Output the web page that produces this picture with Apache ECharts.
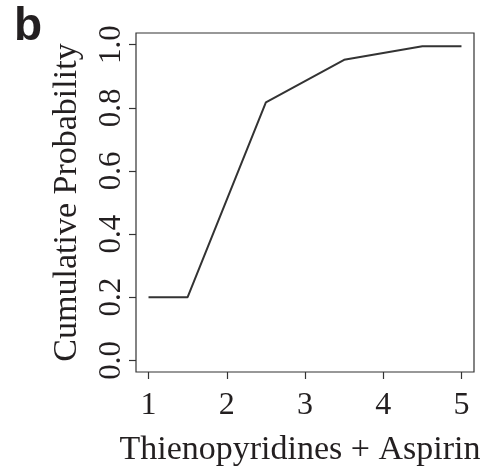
<!DOCTYPE html>
<html><head><meta charset="utf-8">
<script src="https://cdn.jsdelivr.net/npm/echarts@6/dist/echarts.min.js"></script>
<style>html,body{margin:0;padding:0;background:#fff}#c{width:485px;height:472px}</style>
</head><body><div id="c"></div>
<script>
var xValues = [1, 1.5, 2.5, 3.5, 4.5, 5];
var yValues = [0.2, 0.2, 0.817, 0.952, 0.995, 0.995];
var xTicks = [1, 2, 3, 4, 5];
var yTicks = [0, 0.2, 0.4, 0.6, 0.8, 1.0];
var yTickLabels = ['0.0', '0.2', '0.4', '0.6', '0.8', '1.0'];
var xTitle = 'Thienopyridines + Aspirin';
var yTitle = 'Cumulative Probability';
var panelLabel = 'b';

var serif = '"Liberation Serif", "DejaVu Serif", serif';
var chart = echarts.init(document.getElementById('c'), null, {renderer: 'canvas'});
chart.setOption({
  animation: false,
  title: {text: panelLabel, left: 9, top: -1, textStyle: {fontFamily: '"Liberation Sans", Arial, sans-serif', fontWeight: 'bold', fontSize: 46, color: '#231f20'}},
  grid: {left: 136, right: 11, top: 33, bottom: 100, show: true, borderColor: '#333', borderWidth: 1.2, backgroundColor: 'transparent', containLabel: false, outerBoundsMode: 'none'},
  xAxis: {
    type: 'value', min: 0.84, max: 5.16,
    axisLine: {show: false, onZero: false},
    splitLine: {show: false},
    axisTick: {show: true, inside: false, length: 7, lineStyle: {color: '#333', width: 1.2}, customValues: xTicks},
    axisLabel: {customValues: xTicks, fontFamily: serif, fontSize: 32, color: '#231f20', margin: 18, formatter: function(v){return String(v);}},
    name: xTitle, nameLocation: 'middle', nameGap: 61,
    nameTextStyle: {fontFamily: serif, fontSize: 34, color: '#231f20', padding: [0, 10, 0, 0]}
  },
  yAxis: {
    type: 'value', min: -0.037, max: 1.037,
    axisLine: {show: false, onZero: false},
    splitLine: {show: false},
    axisTick: {show: true, inside: false, length: 7, lineStyle: {color: '#333', width: 1.2}, customValues: yTicks},
    axisLabel: {customValues: yTicks, rotate: 90, fontFamily: serif, fontSize: 31, color: '#231f20', margin: 9,
      formatter: function(v){ var i = yTicks.findIndex(function(t){return Math.abs(t - v) < 1e-6;}); return i >= 0 ? yTickLabels[i] : ''; }},
    name: yTitle, nameLocation: 'middle', nameGap: 52, nameRotate: 90,
    nameTextStyle: {fontFamily: serif, fontSize: 34, color: '#231f20'}
  },
  series: [{
    type: 'line',
    data: xValues.map(function(x, i){return [x, yValues[i]];}),
    symbol: 'none',
    lineStyle: {color: '#333', width: 2}
  }]
});
</script></body></html>
